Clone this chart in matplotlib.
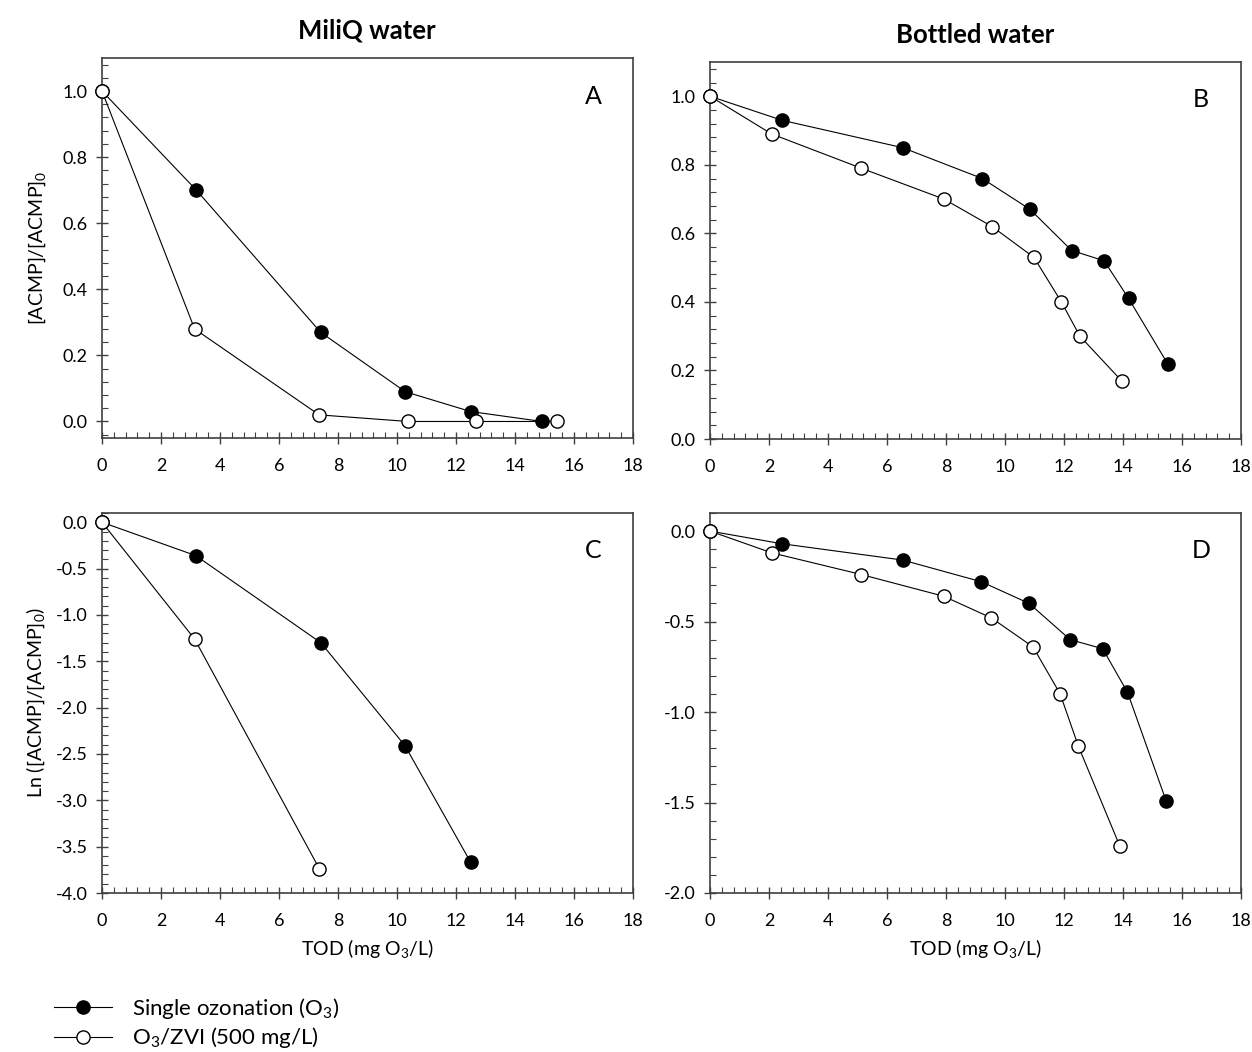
import matplotlib
matplotlib.use("Agg")
import matplotlib.pyplot as plt
from matplotlib.ticker import MultipleLocator, FormatStrFormatter
from matplotlib.lines import Line2D

plt.rcParams['font.family'] = ['Lato', 'DejaVu Sans']
plt.rcParams['mathtext.fontset'] = 'custom'
plt.rcParams['mathtext.rm'] = 'Lato'
plt.rcParams['mathtext.it'] = 'Lato:italic'
plt.rcParams['axes.unicode_minus'] = False

# --- Dados ---
# A: MiliQ, [ACMP]/[ACMP]0
a_o3_x = [0, 3.2, 7.41, 10.28, 12.5, 14.92]
a_o3_y = [1.0, 0.70, 0.27, 0.09, 0.03, 0.0]
a_zvi_x = [0, 3.14, 7.36, 10.38, 12.67, 15.41]
a_zvi_y = [1.0, 0.28, 0.02, 0.0, 0.0, 0.0]

# B: Bottled, [ACMP]/[ACMP]0
b_o3_x = [0, 2.44, 6.53, 9.23, 10.85, 12.26, 13.36, 14.19, 15.51]
b_o3_y = [1.0, 0.93, 0.85, 0.76, 0.67, 0.55, 0.52, 0.41, 0.22]
b_zvi_x = [0, 2.09, 5.13, 7.93, 9.56, 10.98, 11.91, 12.54, 13.95]
b_zvi_y = [1.0, 0.89, 0.79, 0.70, 0.62, 0.53, 0.40, 0.30, 0.17]

# C: MiliQ, ln
c_o3_x = [0, 3.18, 7.42, 10.27, 12.5]
c_o3_y = [0.0, -0.36, -1.30, -2.41, -3.67]
c_zvi_x = [0, 3.14, 7.37]
c_zvi_y = [0.0, -1.26, -3.74]

# D: Bottled, ln
d_o3_x = [0, 2.44, 6.53, 9.2, 10.82, 12.21, 13.31, 14.15, 15.46]
d_o3_y = [0.0, -0.07, -0.16, -0.28, -0.40, -0.60, -0.65, -0.89, -1.49]
d_zvi_x = [0, 2.09, 5.13, 7.92, 9.54, 10.95, 11.87, 12.49, 13.89]
d_zvi_y = [0.0, -0.12, -0.24, -0.36, -0.48, -0.64, -0.90, -1.19, -1.74]

W, H = 1252, 1052
fig = plt.figure(figsize=(W / 100, H / 100), dpi=100)

def pos(l, r, t, b):
    return [l / W, 1 - b / H, (r - l) / W, (b - t) / H]

spine_cor = '#404040'

def painel(rect, xo, yo, xz, yz, ylim, ymaj, ymin, letra):
    ax = fig.add_axes(rect)
    ax.plot(xo, yo, '-o', color='black', lw=0.8, ms=9.5, mfc='black', mec='black',
            mew=1.0, clip_on=False, zorder=3)
    ax.plot(xz, yz, '-o', color='black', lw=0.8, ms=9.5, mfc='white', mec='black',
            mew=1.0, clip_on=False, zorder=4)
    ax.set_xlim(0, 18)
    ax.set_ylim(*ylim)
    ax.xaxis.set_major_locator(MultipleLocator(2))
    ax.xaxis.set_minor_locator(MultipleLocator(0.4))
    ax.yaxis.set_major_locator(MultipleLocator(ymaj))
    ax.yaxis.set_minor_locator(MultipleLocator(ymin))
    ax.yaxis.set_major_formatter(FormatStrFormatter('%.1f'))
    ax.tick_params(which='major', direction='inout', length=9, width=1.0,
                   color=spine_cor, labelsize=13)
    ax.tick_params(axis='x', which='major', pad=10)
    ax.tick_params(axis='y', which='major', pad=6)
    ax.tick_params(which='minor', direction='in', length=4, width=0.8, color=spine_cor)
    for s in ax.spines.values():
        s.set_color(spine_cor)
        s.set_linewidth(1.2)
    ax.text(0.925, 0.9, letra, transform=ax.transAxes, fontsize=18,
            ha='center', va='center')
    return ax

axA = painel(pos(102, 633, 58, 438), a_o3_x, a_o3_y, a_zvi_x, a_zvi_y,
             (-0.05, 1.1), 0.2, 0.04, 'A')
axB = painel(pos(710, 1241, 62, 439), b_o3_x, b_o3_y, b_zvi_x, b_zvi_y,
             (0.0, 1.1), 0.2, 0.04, 'B')
axC = painel(pos(102, 633, 513, 893), c_o3_x, c_o3_y, c_zvi_x, c_zvi_y,
             (-4.0, 0.1), 0.5, 0.1, 'C')
axD = painel(pos(710, 1241, 513, 893), d_o3_x, d_o3_y, d_zvi_x, d_zvi_y,
             (-2.0, 0.1), 0.5, 0.1, 'D')

axA.set_ylabel(r'[ACMP]/[ACMP]$_0$', fontsize=14, labelpad=10)
axC.set_ylabel(r'Ln ([ACMP]/[ACMP]$_0$)', fontsize=14, labelpad=6)
axC.set_xlabel(r'TOD (mg O$_3$/L)', fontsize=14, labelpad=6)
axD.set_xlabel(r'TOD (mg O$_3$/L)', fontsize=14, labelpad=6)

fig.text(367 / W, 1 - 31 / H, 'MiliQ water', fontsize=18.5, fontweight='bold',
         ha='center', va='center')
fig.text(975 / W, 1 - 35 / H, 'Bottled water', fontsize=18.5, fontweight='bold',
         ha='center', va='center')

h1 = Line2D([], [], color='black', lw=0.8, marker='o', ms=9.5, mfc='black', mec='black')
h2 = Line2D([], [], color='black', lw=0.8, marker='o', ms=9.5, mfc='white', mec='black')
fig.legend([h1, h2], [r'Single ozonation (O$_3$)', r'O$_3$/ZVI (500 mg/L)'],
           loc='upper left', bbox_to_anchor=(54 / W, 1 - 996 / H), frameon=False,
           fontsize=16, handlelength=2.6, handletextpad=0.9, labelspacing=0.2,
           borderaxespad=0, borderpad=0)

fig.savefig('out.png', dpi=100)
